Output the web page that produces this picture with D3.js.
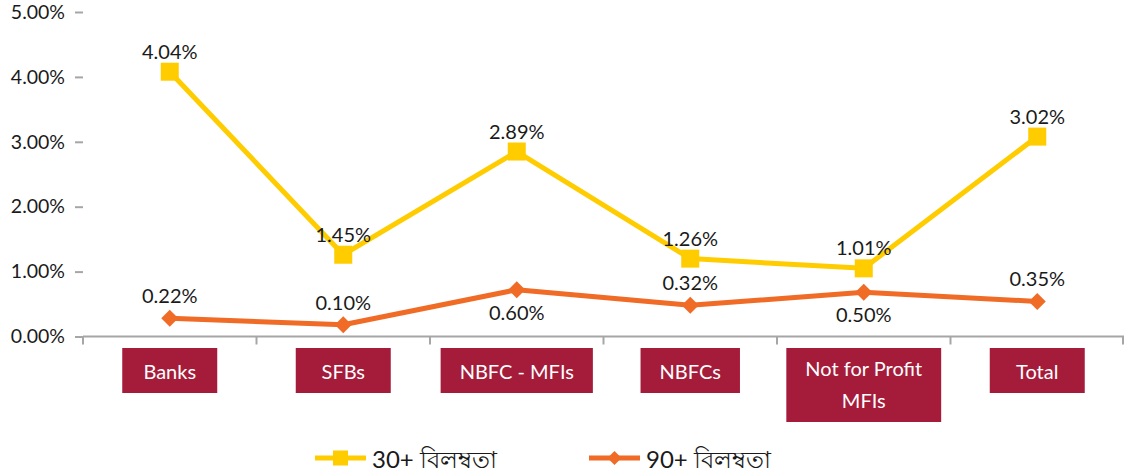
<!DOCTYPE html>
<html>
<head>
<meta charset="utf-8">
<script src="https://cdn.jsdelivr.net/npm/d3@7"></script>
<style>
  html, body { margin: 0; padding: 0; background: #fff; }
  svg { display: block; }
  text { font-family: Lato, "Noto Sans", "DejaVu Sans", sans-serif; }
</style>
</head>
<body>
<svg id="chart" width="1124" height="476"></svg>
<script>
// ---------------- DATA ----------------
const categories = ["Banks", "SFBs", "NBFC - MFIs", "NBFCs", "Not for Profit MFIs", "Total"];
const seriesNames = ["30+ বিলম্বতা", "90+ বিলম্বতা"];
// plotted values (%) as they sit in the picture
const values30 = [4.08, 1.26, 2.85, 1.20, 1.05, 3.08];
const values90 = [0.28, 0.18, 0.72, 0.48, 0.68, 0.54];
// data-label texts as printed
const labels30 = ["4.04%", "1.45%", "2.89%", "1.26%", "1.01%", "3.02%"];
const labels90 = ["0.22%", "0.10%", "0.60%", "0.32%", "0.50%", "0.35%"];
const yTicks = [0, 1, 2, 3, 4, 5];

// ---------------- LAYOUT / STYLE ----------------
const W = 1124, H = 476;
const plot = { left: 83, right: 1124, top: 12, bottom: 336.5 };
const colors = { s30: "#FFCC00", s90: "#F06B26", axis: "#A6A6A6", box: "#A51C3A", text: "#1a1a1a" };
const label90Side = ["above", "above", "below", "above", "below", "above"];

const svg = d3.select("#chart");

const x = d3.scaleBand().domain(categories).range([plot.left, plot.right]).paddingInner(0).paddingOuter(0);
const y = d3.scaleLinear().domain([0, 5]).range([plot.bottom, plot.top]);
const cx = c => x(c) + x.bandwidth() / 2;

// Y axis: small dashes + labels
const yAxis = d3.axisLeft(y).tickValues(yTicks).tickSize(8).tickPadding(10)
  .tickFormat(d => d3.format(".2f")(d) + "%");
const gy = svg.append("g").attr("transform", `translate(${plot.left},0)`).call(yAxis);
gy.select(".domain").remove();
gy.selectAll(".tick line").attr("stroke", colors.axis).attr("stroke-width", 2).attr("x2", -8).attr("x1", 0);
gy.selectAll(".tick text").attr("font-size", 19.5).attr("fill", colors.text)
  .style("font-family", "Lato, 'Noto Sans', sans-serif");

// X axis line + ticks at band edges
svg.append("line").attr("x1", plot.left).attr("x2", plot.right)
  .attr("y1", y(0)).attr("y2", y(0)).attr("stroke", colors.axis).attr("stroke-width", 2);
const edges = categories.map(c => x(c)).concat([plot.right - 1]);
svg.append("g").selectAll("line").data(edges).join("line")
  .attr("x1", d => d).attr("x2", d => d)
  .attr("y1", y(0)).attr("y2", y(0) + 8)
  .attr("stroke", colors.axis).attr("stroke-width", 2);

// Category boxes
const fs = 20;
const catG = svg.append("g");
function wrapLines(text, maxW) {
  const words = text.split(" ");
  const lines = [];
  let cur = "";
  const tmp = catG.append("text").attr("font-size", fs);
  words.forEach(w => {
    const trial = cur ? cur + " " + w : w;
    tmp.text(trial);
    if (tmp.node().getComputedTextLength() > maxW && cur) { lines.push(cur); cur = w; }
    else cur = trial;
  });
  if (cur) lines.push(cur);
  tmp.remove();
  return lines;
}
function measure(t) {
  const tmp = catG.append("text").attr("font-size", fs).text(t);
  const w = tmp.node().getComputedTextLength();
  tmp.remove();
  return w;
}
categories.forEach(c => {
  const lines = wrapLines(c, 130);
  const tw = d3.max(lines, measure);
  const bw = Math.max(95, tw + 38);
  const lineH = 32;
  const bh = lines.length === 1 ? 45 : 74;
  const top = y(0) + 11.5;
  catG.append("rect").attr("x", cx(c) - bw / 2).attr("y", top).attr("width", bw).attr("height", bh)
    .attr("fill", colors.box);
  const startY = lines.length === 1 ? top + bh / 2 : top + 20;
  lines.forEach((ln, i) => {
    catG.append("text").attr("x", cx(c)).attr("y", startY + i * lineH)
      .attr("text-anchor", "middle").attr("dominant-baseline", "central")
      .attr("font-size", fs).attr("fill", "#fff").text(ln);
  });
});

// Lines
const line = d3.line().x((d, i) => cx(categories[i])).y(d => y(d));
svg.append("path").datum(values90).attr("d", line).attr("fill", "none")
  .attr("stroke", colors.s90).attr("stroke-width", 5).attr("stroke-linejoin", "round");
svg.append("path").datum(values30).attr("d", line).attr("fill", "none")
  .attr("stroke", colors.s30).attr("stroke-width", 5).attr("stroke-linejoin", "round");

// Markers
const sq = 18, dm = 8.5;
svg.append("g").selectAll("path").data(values90).join("path")
  .attr("d", (d, i) => {
    const px = cx(categories[i]), py = y(d);
    return `M${px},${py - dm}L${px + dm},${py}L${px},${py + dm}L${px - dm},${py}Z`;
  }).attr("fill", colors.s90);
svg.append("g").selectAll("rect").data(values30).join("rect")
  .attr("x", (d, i) => cx(categories[i]) - sq / 2).attr("y", d => y(d) - sq / 2)
  .attr("width", sq).attr("height", sq).attr("fill", colors.s30);

// Data labels
svg.append("g").selectAll("text").data(values30).join("text")
  .attr("x", (d, i) => cx(categories[i])).attr("y", d => y(d) - 21)
  .attr("text-anchor", "middle").attr("dominant-baseline", "central")
  .attr("font-size", fs).attr("fill", colors.text)
  .text((d, i) => labels30[i]);
svg.append("g").selectAll("text").data(values90).join("text")
  .attr("x", (d, i) => cx(categories[i]))
  .attr("y", (d, i) => y(d) + (label90Side[i] === "above" ? -23 : 22))
  .attr("text-anchor", "middle").attr("dominant-baseline", "central")
  .attr("font-size", fs).attr("fill", colors.text)
  .text((d, i) => labels90[i]);

// Legend
const legY = 458;
const leg = svg.append("g");
const legItems = [
  { name: seriesNames[0], color: colors.s30, x0: 315, marker: "square" },
  { name: seriesNames[1], color: colors.s90, x0: 589, marker: "diamond" }
];
legItems.forEach(it => {
  leg.append("line").attr("x1", it.x0).attr("x2", it.x0 + 51).attr("y1", legY).attr("y2", legY)
    .attr("stroke", it.color).attr("stroke-width", 5);
  const mx = it.x0 + 25.5;
  if (it.marker === "square") {
    leg.append("rect").attr("x", mx - 7.5).attr("y", legY - 7.5).attr("width", 15).attr("height", 15).attr("fill", it.color);
  } else {
    leg.append("path").attr("d", `M${mx},${legY - 7}L${mx + 7},${legY}L${mx},${legY + 7}L${mx - 7},${legY}Z`).attr("fill", it.color);
  }
  leg.append("text").attr("x", it.x0 + 57).attr("y", legY).attr("dominant-baseline", "central")
    .attr("font-size", 24).attr("fill", colors.text).text(it.name);
});
</script>
</body>
</html>
